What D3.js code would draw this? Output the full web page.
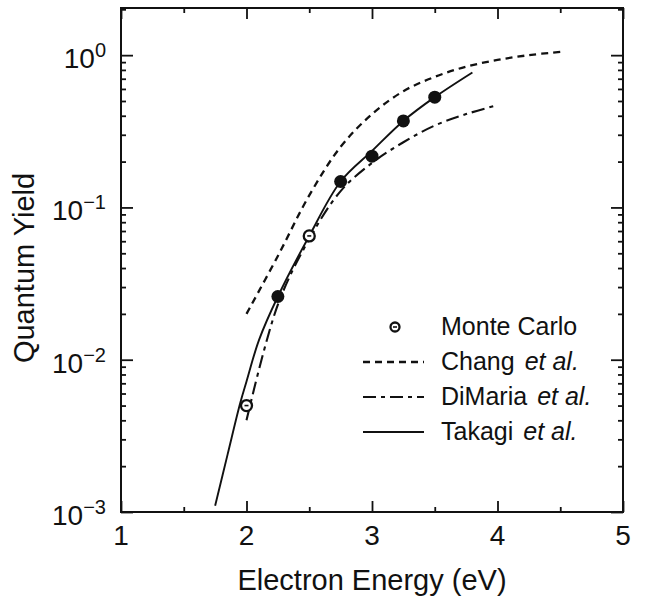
<!DOCTYPE html>
<html>
<head>
<meta charset="utf-8">
<script src="https://cdn.jsdelivr.net/npm/d3@7"></script>
<style>
  html, body { margin: 0; padding: 0; background: #fff; }
  svg { display: block; }
  text { font-family: "Liberation Sans", Arial, Helvetica, sans-serif; fill: #111; }
</style>
</head>
<body>
<svg id="chart" width="650" height="599"></svg>
<script>
// ---------------- data ----------------
const xTicks = [1, 2, 3, 4, 5];
const xTickLabels = ["1", "2", "3", "4", "5"];
const yTicks = [1e-3, 1e-2, 1e-1, 1e0];
const yTickExponents = ["\u22123", "\u22122", "\u22121", "0"];

const mcEnergy = [2.0, 2.25, 2.5, 2.75, 3.0, 3.25, 3.5];
const mcYield  = [0.005, 0.026, 0.065, 0.148, 0.217, 0.37, 0.53];
const mcKind   = ["open", "filled", "open", "filled", "filled", "filled", "filled"];

const changEnergy = [2.0, 2.25, 2.5, 2.75, 3.0, 3.25, 3.5, 3.75, 4.0, 4.25, 4.5];
const changYield  = [0.020, 0.048, 0.12, 0.25, 0.41, 0.58, 0.72, 0.84, 0.93, 1.0, 1.05];

const dimariaEnergy = [2.0, 2.25, 2.5, 2.75, 3.0, 3.25, 3.5, 3.75, 4.0];
const dimariaYield  = [0.004, 0.023, 0.062, 0.128, 0.196, 0.268, 0.345, 0.41, 0.47];

const takagiEnergy = [1.75, 1.85, 1.95, 2.0, 2.1, 2.25, 2.5, 2.75, 3.0, 3.25, 3.5, 3.8];
const takagiYield  = [0.0011, 0.0024, 0.0052, 0.0072, 0.0135, 0.026, 0.065, 0.148, 0.235, 0.37, 0.53, 0.77];

const legendLabels = [
  {name: "Monte Carlo", suffix: ""},
  {name: "Chang", suffix: "et al."},
  {name: "DiMaria", suffix: "et al."},
  {name: "Takagi", suffix: "et al."}
];
const xTitle = "Electron Energy (eV)";
const yTitle = "Quantum Yield";

// ---------------- layout ----------------
const L = 121, R = 623, T = 8, B = 512;
const svg = d3.select("#chart");
const x = d3.scaleLinear().domain([1, 5]).range([L, R]);
const y = d3.scaleLog().domain([1e-3, 2.04]).range([B, T]);

const tickFont = 28;

// minor ticks
const xMinor = d3.range(1.5, 5, 1);
const yMinor = y.ticks().filter(v => !yTicks.some(t => Math.abs(t - v) / t < 1e-6) && v <= 2.04);

function styleAxis(g) {
  g.select(".domain").remove();
  g.selectAll("line").attr("stroke", "#111").attr("stroke-width", 1.8);
  g.selectAll("text").remove();
}

// bottom
svg.append("g").attr("transform", `translate(0,${B})`)
  .call(d3.axisBottom(x).tickValues(xTicks).tickSize(-11).tickFormat("")).call(styleAxis);
svg.append("g").attr("transform", `translate(0,${B})`)
  .call(d3.axisBottom(x).tickValues(xMinor).tickSize(-5).tickFormat("")).call(styleAxis);
// top
svg.append("g").attr("transform", `translate(0,${T})`)
  .call(d3.axisTop(x).tickValues(xTicks).tickSize(-11).tickFormat("")).call(styleAxis);
svg.append("g").attr("transform", `translate(0,${T})`)
  .call(d3.axisTop(x).tickValues(xMinor).tickSize(-5).tickFormat("")).call(styleAxis);
// left
svg.append("g").attr("transform", `translate(${L},0)`)
  .call(d3.axisLeft(y).tickValues(yTicks).tickSize(-12).tickFormat("")).call(styleAxis);
svg.append("g").attr("transform", `translate(${L},0)`)
  .call(d3.axisLeft(y).tickValues(yMinor).tickSize(-5).tickFormat("")).call(styleAxis);
// right
svg.append("g").attr("transform", `translate(${R},0)`)
  .call(d3.axisRight(y).tickValues(yTicks).tickSize(-12).tickFormat("")).call(styleAxis);
svg.append("g").attr("transform", `translate(${R},0)`)
  .call(d3.axisRight(y).tickValues(yMinor).tickSize(-5).tickFormat("")).call(styleAxis);

// frame
svg.append("rect").attr("x", L).attr("y", T).attr("width", R - L).attr("height", B - T)
  .attr("fill", "none").attr("stroke", "#111").attr("stroke-width", 2);

// x tick labels
svg.append("g").selectAll("text").data(xTicks).join("text")
  .attr("x", d => x(d)).attr("y", B + 33)
  .attr("text-anchor", "middle").attr("font-size", tickFont)
  .text((d, i) => xTickLabels[i]);

// y tick labels with superscripts
const yl = svg.append("g").selectAll("text").data(yTicks).join("text")
  .attr("x", 106).attr("y", d => y(d) + 13)
  .attr("text-anchor", "end").attr("font-size", tickFont);
yl.append("tspan").text("10");
yl.append("tspan").attr("dy", -11).attr("font-size", 20).text((d, i) => yTickExponents[i]);

// axis titles
svg.append("text").attr("x", (L + R) / 2).attr("y", 590)
  .attr("text-anchor", "middle").attr("font-size", 29).text(xTitle);
svg.append("text").attr("transform", `translate(34,${268}) rotate(-90)`)
  .attr("text-anchor", "middle").attr("font-size", 29).text(yTitle);

// ---------------- curves ----------------
const line = d3.line().x(d => x(d[0])).y(d => y(d[1])).curve(d3.curveCatmullRom.alpha(0.5));
const zip = (a, b) => a.map((v, i) => [v, b[i]]);

const styles = {
  chang:   {dash: "7,5", width: 2.3},
  dimaria: {dash: "13,5,4,5", width: 2.1},
  takagi:  {dash: null, width: 1.9}
};

function drawCurve(data, st) {
  svg.append("path").datum(data).attr("d", line)
    .attr("fill", "none").attr("stroke", "#111")
    .attr("stroke-width", st.width)
    .attr("stroke-dasharray", st.dash);
}
drawCurve(zip(changEnergy, changYield), styles.chang);
drawCurve(zip(dimariaEnergy, dimariaYield), styles.dimaria);
drawCurve(zip(takagiEnergy, takagiYield), styles.takagi);

// markers
function drawMarker(g, cx, cy, kind, r) {
  if (kind === "filled") {
    g.append("circle").attr("cx", cx).attr("cy", cy).attr("r", r + 1).attr("fill", "#111");
  } else {
    g.append("circle").attr("cx", cx).attr("cy", cy).attr("r", r)
      .attr("fill", "#fff").attr("stroke", "#111").attr("stroke-width", 2.3);
    g.append("line").attr("x1", cx - 2).attr("x2", cx + 2).attr("y1", cy).attr("y2", cy)
      .attr("stroke", "#111").attr("stroke-width", 1.6);
  }
}
const mg = svg.append("g");
mcEnergy.forEach((e, i) => drawMarker(mg, x(e), y(mcYield[i]), mcKind[i], 5.5));

// ---------------- legend ----------------
const lg = svg.append("g");
const legY = [327, 362, 397, 432];
const legFont = 25;
drawMarker(lg, 395, legY[0], "open", 4.5);
[styles.chang, styles.dimaria, styles.takagi].forEach((st, i) => {
  lg.append("line").attr("x1", 363).attr("x2", 424)
    .attr("y1", legY[i + 1]).attr("y2", legY[i + 1])
    .attr("stroke", "#111").attr("stroke-width", st.width)
    .attr("stroke-dasharray", st.dash);
});
legendLabels.forEach((d, i) => {
  const t = lg.append("text").attr("x", 441).attr("y", legY[i] + 8).attr("font-size", legFont);
  t.append("tspan").text(d.name);
  if (d.suffix) {
    t.append("tspan").attr("dx", 10).attr("font-style", "italic").text(d.suffix);
  }
});
</script>
</body>
</html>
